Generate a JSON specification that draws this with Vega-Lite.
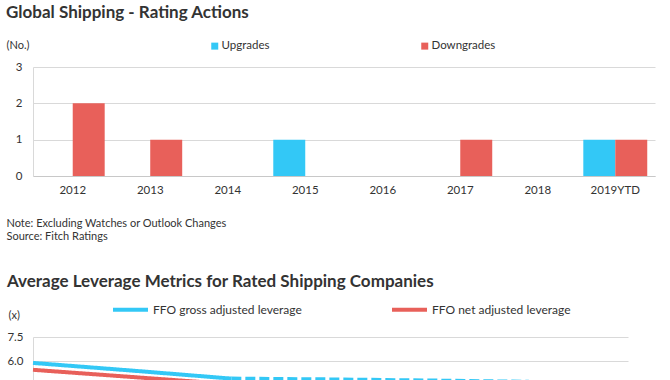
{
  "$schema": "https://vega.github.io/schema/vega-lite/v6.json",
  "padding": {"left": 6, "top": 4, "right": 5, "bottom": 5},
  "background": "white",
  "config": {
    "font": "Lato",
    "view": {"stroke": null},
    "axis": {"labelFont": "Lato", "labelColor": "#333333", "labelFontSize": 11, "titleFont": "Lato", "titleColor": "#333333", "ticks": false, "domainColor": "#cccccc", "gridColor": "#d9d9d9"},
    "legend": {"labelFont": "Lato", "labelColor": "#333333"}
  },
  "datasets": {
    "rating": [
      {"year": "2012", "type": "Upgrades", "count": 0},
      {"year": "2012", "type": "Downgrades", "count": 2},
      {"year": "2013", "type": "Upgrades", "count": 0},
      {"year": "2013", "type": "Downgrades", "count": 1},
      {"year": "2014", "type": "Upgrades", "count": 0},
      {"year": "2014", "type": "Downgrades", "count": 0},
      {"year": "2015", "type": "Upgrades", "count": 1},
      {"year": "2015", "type": "Downgrades", "count": 0},
      {"year": "2016", "type": "Upgrades", "count": 0},
      {"year": "2016", "type": "Downgrades", "count": 0},
      {"year": "2017", "type": "Upgrades", "count": 0},
      {"year": "2017", "type": "Downgrades", "count": 1},
      {"year": "2018", "type": "Upgrades", "count": 0},
      {"year": "2018", "type": "Downgrades", "count": 0},
      {"year": "2019YTD", "type": "Upgrades", "count": 1},
      {"year": "2019YTD", "type": "Downgrades", "count": 1}
    ],
    "leverage": [
      {"year": "2016", "series": "FFO gross adjusted leverage", "segment": "actual", "value": 5.88},
      {"year": "2017", "series": "FFO gross adjusted leverage", "segment": "actual", "value": 5.4},
      {"year": "2018", "series": "FFO gross adjusted leverage", "segment": "actual", "value": 4.9},
      {"year": "2018", "series": "FFO gross adjusted leverage", "segment": "forecast", "value": 4.9},
      {"year": "2019", "series": "FFO gross adjusted leverage", "segment": "forecast", "value": 4.85},
      {"year": "2020", "series": "FFO gross adjusted leverage", "segment": "forecast", "value": 4.78},
      {"year": "2021", "series": "FFO gross adjusted leverage", "segment": "forecast", "value": 4.7},
      {"year": "2016", "series": "FFO net adjusted leverage", "segment": "actual", "value": 5.45},
      {"year": "2017", "series": "FFO net adjusted leverage", "segment": "actual", "value": 5.0},
      {"year": "2018", "series": "FFO net adjusted leverage", "segment": "actual", "value": 4.55},
      {"year": "2019", "series": "FFO net adjusted leverage", "segment": "actual", "value": 4.3},
      {"year": "2020", "series": "FFO net adjusted leverage", "segment": "actual", "value": 4.2},
      {"year": "2021", "series": "FFO net adjusted leverage", "segment": "actual", "value": 4.1},
      {"year": "2022", "series": "FFO net adjusted leverage", "segment": "actual", "value": 4.0}
    ]
  },
  "resolve": {"scale": {"color": "independent", "x": "independent", "y": "independent"}, "legend": {"color": "independent"}},
  "vconcat": [
    {
      "title": {"text": "Global Shipping - Rating Actions", "anchor": "start", "frame": "bounds", "font": "Lato", "fontSize": 17, "fontWeight": "bold", "color": "#333333", "offset": 17},
      "width": 622,
      "height": 109,
      "data": {"name": "rating"},
      "mark": {"type": "bar"},
      "encoding": {
        "x": {
          "field": "year", "type": "nominal", "sort": null,
          "scale": {"paddingInner": 0.175, "paddingOuter": 0.1},
          "axis": {
            "labelAngle": 0, "labelPadding": 8, "labelFontSize": 11.5, "domainColor": "#c8c8c8",
            "title": ["Note: Excluding Watches or Outlook Changes", "Source: Fitch Ratings"],
            "titleAnchor": "start", "titleAlign": "left", "titleBaseline": "top",
            "titleX": -27, "titleY": 41, "titleFontSize": 11, "titleFontWeight": "normal", "titleLineHeight": 13
          }
        },
        "xOffset": {"field": "type", "sort": ["Upgrades", "Downgrades"]},
        "y": {
          "field": "count", "type": "quantitative",
          "scale": {"domain": [0, 3]},
          "axis": {
            "values": [0, 1, 2, 3], "labelPadding": 11, "labelFontSize": 11.5, "grid": true, "domainColor": "#d9d9d9",
            "title": "(No.)", "titleAngle": 0, "titleAlign": "left", "titleBaseline": "middle",
            "titleX": -27, "titleY": -22, "titleFontSize": 11, "titleFontWeight": "normal"
          }
        },
        "color": {
          "field": "type", "type": "nominal",
          "scale": {"domain": ["Upgrades", "Downgrades"], "range": ["#33c8f6", "#e8605a"]},
          "legend": {
            "title": null, "orient": "none", "direction": "horizontal", "legendX": 176, "legendY": -27,
            "symbolType": "square", "symbolSize": 49, "symbolOpacity": 1, "labelOffset": 1,
            "labelFontSize": 11.5, "columnPadding": 149
          }
        }
      }
    },
    {
      "title": {"text": "Average Leverage Metrics for Rated Shipping Companies", "anchor": "start", "frame": "bounds", "font": "Lato", "fontSize": 17, "fontWeight": "bold", "color": "#333333", "offset": -1},
      "width": 595,
      "height": 120,
      "data": {"name": "leverage"},
      "mark": {"type": "line", "strokeWidth": 4},
      "encoding": {
        "x": {
          "field": "year", "type": "ordinal",
          "scale": {"type": "point", "padding": 0},
          "axis": {"labelAngle": 0, "title": null, "domain": false}
        },
        "y": {
          "field": "value", "type": "quantitative",
          "scale": {"domain": [0, 7.5]},
          "axis": {
            "values": [0, 1.5, 3, 4.5, 6, 7.5], "format": ".1f", "labelPadding": 10, "labelFontSize": 11.5, "grid": true, "domainColor": "#d9d9d9",
            "title": "(x)", "titleAngle": 0, "titleAlign": "left", "titleBaseline": "middle",
            "titleX": -25, "titleY": -22, "titleFontSize": 11, "titleFontWeight": "normal"
          }
        },
        "color": {
          "field": "series", "type": "nominal",
          "scale": {"domain": ["FFO gross adjusted leverage", "FFO net adjusted leverage"], "range": ["#33c8f6", "#e8605a"]},
          "legend": {
            "title": null, "orient": "none", "direction": "horizontal", "legendX": 78, "legendY": -47,
            "symbolType": "stroke", "symbolSize": 1225, "symbolStrokeWidth": 4, "labelOffset": 3,
            "labelFontSize": 12, "columnPadding": 82
          }
        },
        "strokeDash": {
          "field": "segment", "type": "nominal",
          "scale": {"domain": ["actual", "forecast"], "range": [[1, 0], [10, 4]]},
          "legend": null
        },
        "detail": {"field": "segment"}
      }
    }
  ],
  "spacing": 32
}
